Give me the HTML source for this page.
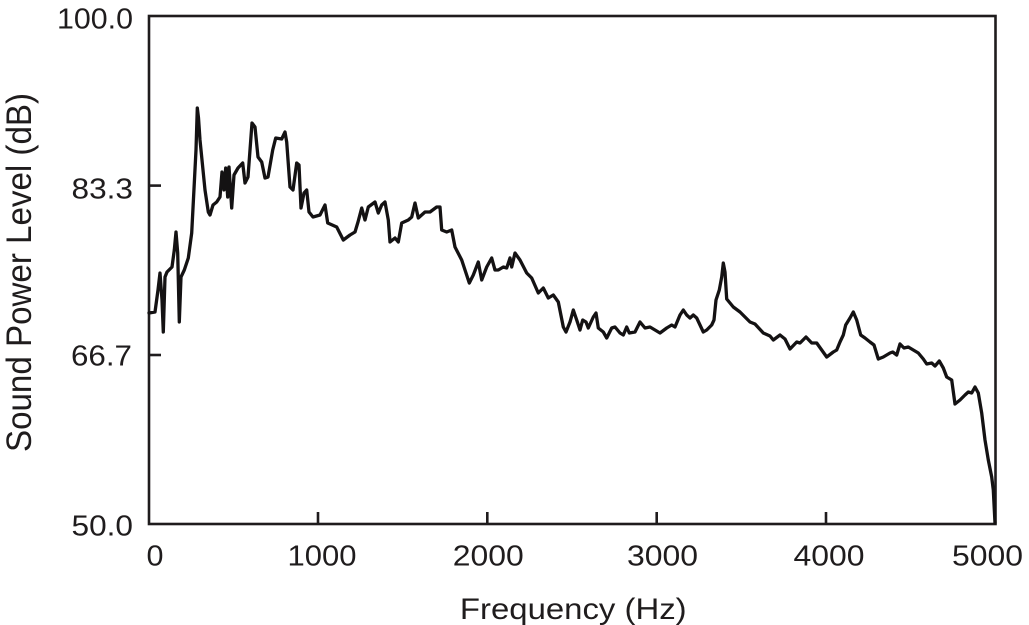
<!DOCTYPE html>
<html>
<head>
<meta charset="utf-8">
<style>
  html, body { margin: 0; padding: 0; background: #ffffff; }
  svg { display: block; }
  text { font-family: "Liberation Sans", "DejaVu Sans", sans-serif; fill: #1f1c1d; }
</style>
</head>
<body>
<svg width="1029" height="625" viewBox="0 0 1029 625" xmlns="http://www.w3.org/2000/svg">
  <rect x="0" y="0" width="1029" height="625" fill="#ffffff"/>

  <!-- Axes frame -->
  <rect x="149" y="16" width="846.5" height="508" fill="none" stroke="#1f1c1d" stroke-width="2.6"/>

  <!-- Y ticks -->
  <line x1="149" y1="185.6" x2="161" y2="185.6" stroke="#1f1c1d" stroke-width="2.6"/>
  <line x1="149" y1="355" x2="161" y2="355" stroke="#1f1c1d" stroke-width="2.6"/>

  <!-- X ticks -->
  <line x1="318" y1="524" x2="318" y2="512" stroke="#1f1c1d" stroke-width="2.6"/>
  <line x1="487.3" y1="524" x2="487.3" y2="512" stroke="#1f1c1d" stroke-width="2.6"/>
  <line x1="656.7" y1="524" x2="656.7" y2="512" stroke="#1f1c1d" stroke-width="2.6"/>
  <line x1="826" y1="524" x2="826" y2="512" stroke="#1f1c1d" stroke-width="2.6"/>

  <!-- Y tick labels -->
  <text x="133" y="28.5" font-size="29" text-anchor="end" textLength="76" lengthAdjust="spacingAndGlyphs">100.0</text>
  <text x="133" y="198.5" font-size="29" text-anchor="end" textLength="61.5" lengthAdjust="spacingAndGlyphs">83.3</text>
  <text x="132" y="365.5" font-size="29" text-anchor="end" textLength="61" lengthAdjust="spacingAndGlyphs">66.7</text>
  <text x="133" y="535.5" font-size="29" text-anchor="end" textLength="61.5" lengthAdjust="spacingAndGlyphs">50.0</text>

  <!-- X tick labels -->
  <text x="155" y="565.5" font-size="29" text-anchor="middle" textLength="17" lengthAdjust="spacingAndGlyphs">0</text>
  <text x="322" y="565.5" font-size="29" text-anchor="middle" textLength="69" lengthAdjust="spacingAndGlyphs">1000</text>
  <text x="488.3" y="565.5" font-size="29" text-anchor="middle" textLength="71" lengthAdjust="spacingAndGlyphs">2000</text>
  <text x="662.5" y="565.5" font-size="29" text-anchor="middle" textLength="71" lengthAdjust="spacingAndGlyphs">3000</text>
  <text x="829" y="565.5" font-size="29" text-anchor="middle" textLength="71" lengthAdjust="spacingAndGlyphs">4000</text>
  <text x="987.5" y="565.5" font-size="29" text-anchor="middle" textLength="71" lengthAdjust="spacingAndGlyphs">5000</text>

  <!-- Axis titles -->
  <text x="573.3" y="619" font-size="30" text-anchor="middle" textLength="226.7" lengthAdjust="spacingAndGlyphs">Frequency (Hz)</text>
  <g transform="translate(31,272.5) scale(1.09,1) rotate(-90)">
    <text x="0" y="0" font-size="32" text-anchor="middle" textLength="359" lengthAdjust="spacingAndGlyphs">Sound Power Level (dB)</text>
  </g>

  <!-- Data curve -->
  <polyline fill="none" stroke="#141213" stroke-width="3.3" stroke-linejoin="round" stroke-linecap="round" points="
149,313 155,312 158,290 160,273 162,300 163.3,332 165,277 167,272 172,267 174.3,250 176,232 177.7,253 179.3,322 181,277 184.3,270 188.3,258 191.7,233 194.3,183 196,150 197.3,108 198.5,118 200,140 205,190 208.3,212 210,215 213,205 216.7,202 220,197 222,172 224,190 225.7,168 227.7,197 229,167 231.7,208 234,175 238,168 242.7,163 245,183 248,177 252,123 255,127 258,157 261.7,162 265,178 268,177 272.7,150 275.7,138 281.7,139 285,132 286.7,142 290,187 293,190 296.7,163 299,165 301,208 304,193 306.7,190 309,212 313,217 320,215 325,205 327.7,223 330,224 336.7,227 343.3,240 350,235 355,232 358,222 361.7,208 365,220 368.3,207 375,202 378.3,213 381.7,205 385,202 388.3,220 390,242 395,238 398.3,242 401.7,223 408.3,220 411.7,217 415,203 418.3,218 425,212 430,212 436.7,207 440,207 441.7,230 446.7,232 451.7,230 455,247 461.7,260 465,270 469.3,283 473.3,275 478.3,262 481.7,280 486.7,267 491.7,258 495,270 498.3,270 503.3,267 506.7,268 510,258 511.7,267 515,253 520,260 526.7,273 531.7,278 538.3,293 543.3,288 548.3,298 553.3,295 558.3,302 563.3,327 566,332 570,322 573.3,310 576.7,320 580,330 582.7,320 586,322 588.3,328 593.3,317 596,313 598.3,328 603.3,332 606.7,338 611.7,328 615,327 620,333 623.3,335 626.7,327 629.3,333 635,332 640,322 645,328 650,327 655,330 660,333 666.7,328 671.7,325 675,327 680,315 683.3,310 686.7,315 690,318 693.3,315 696.7,318 703.3,332 706.7,330 711.7,325 714,320 716,300 719.3,290 721.7,277 723.3,263 725,272 726.7,299 733.3,307 740,312 750,322 755,324 763.3,333 770,336 773.3,340 780,335 785,339 790,349 796.7,342 800,343 806,337 811.7,343 816.7,343 821.7,350 826.7,357 833.3,352 836.7,350 840,342 843.3,335 845.7,325 850,318 853.3,312 856.7,320 860.7,335 865,338 870,342 874,345 878.3,359 883.3,357 890,353 892.7,352 896.7,355 900,344 904,348 908.3,347 913.3,350 918.3,353 923.3,359 926.7,364 931.7,363 935,366 939.3,361 943.3,368 946.7,377 951.7,380 955,404 960,400 965,395 968.3,392 971.7,393 975,387 978.3,393 981.7,413 985,440 988.3,460 991.7,477 993.3,490 995,523"/>
</svg>
</body>
</html>
